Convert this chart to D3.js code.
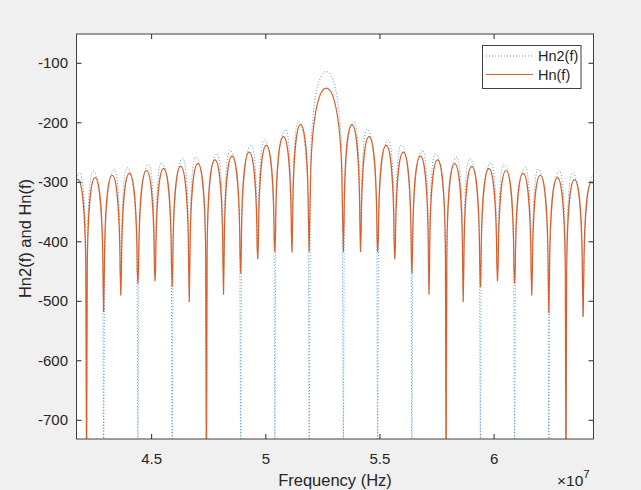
<!DOCTYPE html>
<html><head><meta charset="utf-8">
<script src="https://cdn.jsdelivr.net/npm/d3@7"></script>
<style>
body{margin:0;background:#f0f0f0;}
svg{display:block;}
text{font-family:"Liberation Sans",Arial,Helvetica,sans-serif;fill:#262626;}
</style>
</head><body>
<svg id="chart" width="641" height="490"></svg>
<script>
// ---------- data ----------
const xTicks = [4.5e7, 5e7, 5.5e7, 6e7];
const xTickLabels = ["4.5", "5", "5.5", "6"];
const yTicks = [-700, -600, -500, -400, -300, -200, -100];
const yTickLabels = ["-700", "-600", "-500", "-400", "-300", "-200", "-100"];
const seriesNames = ["Hn2(f)", "Hn(f)"];

// Hn(f): alternating null / lobe-peak vertices, frequency in MHz, level in dB
const hnFreqMHz = [41.42, 41.79, 42.17, 42.545, 42.92, 43.295, 43.67, 44.045, 44.42, 44.795,
  45.17, 45.545, 45.92, 46.295, 46.67, 47.045, 47.42, 47.795, 48.17, 48.545,
  48.92, 49.295, 49.67, 50.045, 50.42, 50.795, 51.17, 51.545, 51.92, 52.67,
  53.42, 53.795, 54.17, 54.545, 54.92, 55.295, 55.67, 56.045, 56.42, 56.795,
  57.17, 57.545, 57.92, 58.295, 58.67, 59.045, 59.42, 59.795, 60.17, 60.545,
  60.92, 61.295, 61.67, 62.045, 62.42, 62.795, 63.17, 63.545, 63.92, 64.295, 64.67];
const hnDb = [-520, -296, -800, -293, -519, -289, -491, -286, -471, -281,
  -467, -278, -477, -274, -502, -269.6, -800, -263, -490, -256.8,
  -454, -250, -430, -238.8, -418, -224, -419, -204, -418, -142.6,
  -418, -204, -418, -224, -418, -238.8, -430, -250, -454, -256.8,
  -490, -263, -800, -269.6, -502, -274, -477, -278, -467, -281,
  -471, -286, -491, -289, -521, -293, -800, -296.4, -527, -300.4, -520];

// Hn2(f): alternating null / lobe-peak vertices
const hn2FreqMHz = [41.42, 41.87, 42.17, 42.45, 42.92, 43.39, 43.67, 43.95, 44.42, 44.89,
  45.17, 45.45, 45.92, 46.39, 46.67, 46.95, 47.42, 47.89, 48.17, 48.45,
  48.92, 49.39, 49.67, 49.95, 50.42, 50.89, 51.17, 51.45, 51.92, 52.67,
  53.42, 53.89, 54.17, 54.45, 54.92, 55.39, 55.67, 55.95, 56.42, 56.89,
  57.17, 57.45, 57.92, 58.39, 58.67, 58.95, 59.42, 59.89, 60.17, 60.45,
  60.92, 61.39, 61.67, 61.95, 62.42, 62.89, 63.17, 63.45, 63.92, 64.39, 64.67];
const hn2Db = [-527, -284.7, -800, -282, -800, -279, -480, -276, -800, -271,
  -457, -268, -800, -261, -492, -258.5, -800, -253, -480, -247,
  -800, -238, -420, -230, -800, -212, -409, -199, -800, -114.6,
  -800, -199, -408, -212, -800, -230, -420, -238, -800, -247,
  -480, -253, -800, -258.5, -492, -261, -800, -268, -457, -271,
  -800, -276, -481, -279, -800, -282, -800, -284.7, -527, -288, -800];

// ---------- layout ----------
const L = 76.5, R = 593.5, T = 34, B = 439;
const svg = d3.select("#chart");
svg.append("rect").attr("width", 641).attr("height", 490).attr("fill", "#f0f0f0");

const x = d3.scaleLinear().domain([4.173e7, 6.4376e7]).range([L, R]);
const y = d3.scaleLinear().domain([-732.3, -51.6]).range([B, T]);
const pxPerDb = Math.abs(y(0) - y(1));
const KNEE_DB = 160;

svg.append("rect").attr("x", L).attr("y", T).attr("width", R - L).attr("height", B - T).attr("fill", "#fff");

svg.append("clipPath").attr("id", "clip").append("rect")
  .attr("x", L).attr("y", T).attr("width", R - L).attr("height", B - T);

// custom curve: steep cusp at nulls, rounded lobe tops
function lobeCurve(ctx) {
  let pts;
  return {
    areaStart() {}, areaEnd() {},
    lineStart() { pts = []; },
    point(px, py) { pts.push([+px, +py]); },
    lineEnd() {
      if (!pts.length) return;
      ctx.moveTo(pts[0][0], pts[0][1]);
      for (let i = 0; i < pts.length - 1; i++) {
        const a = pts[i], b = pts[i + 1];
        const dx = b[0] - a[0];
        if (a[1] > b[1]) {
          const kd = Math.min(a[1] - b[1], KNEE_DB * pxPerDb);
          const kx = a[0] + 0.08 * dx, ky = b[1] + kd;
          ctx.lineTo(kx, ky);
          ctx.bezierCurveTo(kx + 0.05 * dx, b[1] + kd * 0.375, a[0] + 0.5 * dx, b[1], b[0], b[1]);
        } else {
          const kd = Math.min(b[1] - a[1], KNEE_DB * pxPerDb);
          const kx = b[0] - 0.08 * dx, ky = a[1] + kd;
          ctx.bezierCurveTo(a[0] + 0.5 * dx, a[1], kx - 0.05 * dx, a[1] + kd * 0.375, kx, ky);
          ctx.lineTo(b[0], b[1]);
        }
      }
    }
  };
}

const line = d3.line().x(d => x(d.f)).y(d => y(d.v)).curve(lobeCurve);
const hn2Data = hn2FreqMHz.map((f, i) => ({ f: f * 1e6, v: hn2Db[i] }));
const hnData = hnFreqMHz.map((f, i) => ({ f: f * 1e6, v: hnDb[i] }));

const blueColor = "#2a86c8", orangeColor = "#dc5f2a";
const plot = svg.append("g").attr("clip-path", "url(#clip)");
plot.append("path").datum(hn2Data).attr("d", line)
  .attr("fill", "none").attr("stroke", blueColor).attr("stroke-width", 1)
  .attr("stroke-dasharray", "1 2").attr("opacity", 0.8);
plot.append("path").datum(hnData).attr("d", line)
  .attr("fill", "none").attr("stroke", orangeColor).attr("stroke-width", 1.2);

// ---------- axes ----------
const axisColor = "#262626";
function styleAxis(g) {
  g.select(".domain").remove();
  g.selectAll(".tick line").attr("stroke", axisColor);
  g.selectAll(".tick text").attr("fill", axisColor).style("font-size", "15px")
    .style("font-family", '"Liberation Sans",Arial,sans-serif');
}
svg.append("g").attr("transform", `translate(0,${B})`)
  .call(d3.axisBottom(x).tickValues(xTicks).tickFormat((d, i) => xTickLabels[i]).tickSize(-5).tickPadding(14))
  .call(styleAxis);
svg.append("g").attr("transform", `translate(0,${T})`)
  .call(d3.axisTop(x).tickValues(xTicks).tickFormat("").tickSize(-5))
  .call(styleAxis);
svg.append("g").attr("transform", `translate(${L},0)`)
  .call(d3.axisLeft(y).tickValues(yTicks).tickFormat((d, i) => yTickLabels[i]).tickSize(-5).tickPadding(8.5))
  .call(styleAxis);
svg.append("g").attr("transform", `translate(${R},0)`)
  .call(d3.axisRight(y).tickValues(yTicks).tickFormat("").tickSize(-5))
  .call(styleAxis);

svg.append("rect").attr("x", L).attr("y", T).attr("width", R - L).attr("height", B - T)
  .attr("fill", "none").attr("stroke", "#404040").attr("stroke-width", 1);

// labels
svg.append("text").attr("x", (L + R) / 2).attr("y", 486).attr("text-anchor", "middle")
  .style("font-size", "16.5px").text("Frequency (Hz)");
svg.append("text").attr("transform", `translate(31,${(T + B) / 2 + 2}) rotate(-90)`)
  .attr("text-anchor", "middle").style("font-size", "16.5px").text("Hn2(f) and Hn(f)");
const ex = svg.append("text").attr("x", 557).attr("y", 486).style("font-size", "15.5px");
ex.append("tspan").text("\u00d710");
ex.append("tspan").attr("dy", -8).style("font-size", "11.5px").text("7");

// ---------- legend ----------
const lg = svg.append("g");
lg.append("rect").attr("x", 482.5).attr("y", 45.5).attr("width", 98.5).attr("height", 43)
  .attr("fill", "#fff").attr("stroke", "#404040").attr("stroke-width", 1);
const legendRows = [
  { name: seriesNames[0], color: blueColor, dash: "1 2", w: 1, op: 0.8, yy: 56 },
  { name: seriesNames[1], color: orangeColor, dash: null, w: 1.2, op: 1, yy: 74.5 }
];
legendRows.forEach(r => {
  lg.append("line").attr("x1", 486).attr("x2", 533).attr("y1", r.yy).attr("y2", r.yy)
    .attr("stroke", r.color).attr("stroke-width", r.w).attr("stroke-dasharray", r.dash).attr("opacity", r.op);
  lg.append("text").attr("x", 538).attr("y", r.yy).attr("dy", "0.35em")
    .style("font-size", "14.5px").text(r.name);
});
</script>
</body></html>
